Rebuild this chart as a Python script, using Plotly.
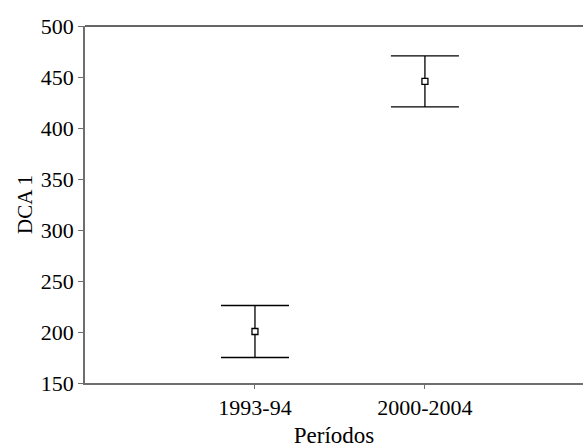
import plotly.graph_objects as go

categories = ["1993-94", "2000-2004"]
means = [200.5, 445.8]
errors = [25.5, 25.0]
y_ticks = [150, 200, 250, 300, 350, 400, 450, 500]

xpos = list(range(1, len(categories) + 1))

fig = go.Figure()
fig.add_trace(go.Scatter(
    x=xpos, y=means, mode="markers",
    marker=dict(symbol="square", size=6, color="white",
                line=dict(color="black", width=1.3)),
    error_y=dict(type="data", array=errors, visible=True,
                 color="black", thickness=1.3, width=34),
    showlegend=False,
))

fam = "Liberation Serif, Times New Roman, serif"
tick_font = dict(family=fam, size=22, color="black")
xt_font = dict(family=fam, size=23, color="black")
yt_font = dict(family=fam, size=21, color="black")

fig.update_layout(
    width=583, height=448,
    margin=dict(l=85, r=0, t=26, b=65),
    plot_bgcolor="white", paper_bgcolor="white",
    font=dict(family=fam, color="black"),
    xaxis=dict(
        range=[0, 2.93], tickmode="array", tickvals=xpos, ticktext=categories,
        showline=True, linecolor="#6e6e6e", linewidth=1.5,
        ticks="outside", ticklen=4, tickcolor="#6e6e6e", tickwidth=1,
        showgrid=False, zeroline=False, tickfont=tick_font,
        title=dict(text="Períodos", standoff=12, font=xt_font),
    ),
    yaxis=dict(
        range=[150, 500], tickmode="array", tickvals=y_ticks,
        showline=True, linecolor="#6e6e6e", linewidth=1.5,
        ticks="outside", ticklen=5, tickcolor="#6e6e6e", tickwidth=1,
        showgrid=False, zeroline=False, tickfont=tick_font,
        title=dict(text="DCA 1", standoff=2, font=yt_font),
    ),
    shapes=[dict(type="line", xref="paper", yref="paper", x0=0, x1=1, y0=1, y1=1,
                 line=dict(color="#333333", width=1.5))],
)

fig.write_html("out.html")
